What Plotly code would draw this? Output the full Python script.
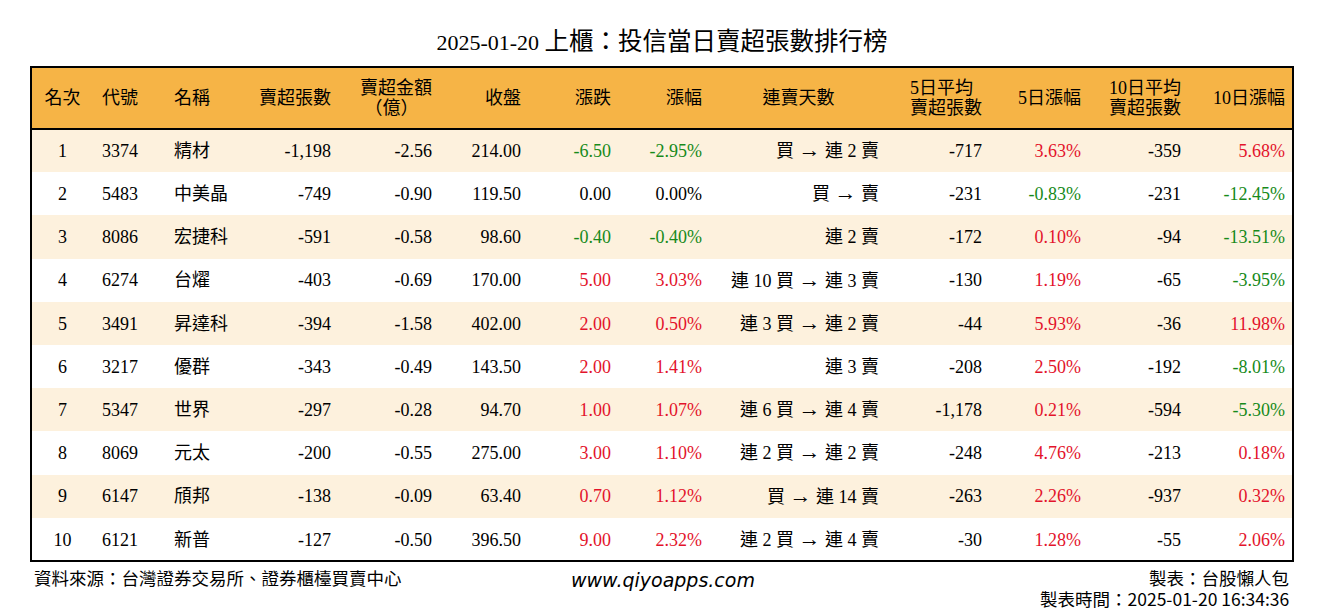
import plotly.graph_objects as go

# table data
ranks = [1, 2, 3, 4, 5, 6, 7, 8, 9, 10]
codes = ["3374", "5483", "8086", "6274", "3491", "3217", "5347", "8069", "6147", "6121"]
names = ["精材", "中美晶", "宏捷科", "台燿", "昇達科", "優群", "世界", "元太", "頎邦", "新普"]
sell_lots = [-1198, -749, -591, -403, -394, -343, -297, -200, -138, -127]
sell_amount = [-2.56, -0.90, -0.58, -0.69, -1.58, -0.49, -0.28, -0.55, -0.09, -0.50]
close = [214.00, 119.50, 98.60, 170.00, 402.00, 143.50, 94.70, 275.00, 63.40, 396.50]
change = [-6.50, 0.00, -0.40, 5.00, 2.00, 2.00, 1.00, 3.00, 0.70, 9.00]
change_pct = [-2.95, 0.00, -0.40, 3.03, 0.50, 1.41, 1.07, 1.10, 1.12, 2.32]
streak = ["買 → 連 2 賣", "買 → 賣", "連 2 賣", "連 10 買 → 連 3 賣", "連 3 買 → 連 2 賣",
          "連 3 賣", "連 6 買 → 連 4 賣", "連 2 買 → 連 2 賣", "買 → 連 14 賣", "連 2 買 → 連 4 賣"]
avg5 = [-717, -231, -172, -130, -44, -208, -1178, -248, -263, -30]
pct5 = [3.63, -0.83, 0.10, 1.19, 5.93, 2.50, 0.21, 4.76, 2.26, 1.28]
avg10 = [-359, -231, -94, -65, -36, -192, -594, -213, -937, -55]
pct10 = [5.68, -12.45, -13.51, -3.95, 11.98, -8.01, -5.30, 0.18, 0.32, 2.06]

headers = [["名次"], ["代號"], ["名稱"], ["賣超張數"], ["賣超金額", "\u00a0（億）"], ["收盤"],
           ["漲跌"], ["漲幅"], ["連賣天數"], ["5日平均", "賣超張數"], ["5日漲幅"],
           ["10日平均", "賣超張數"], ["10日漲幅"]]

RED = "#E3132B"
GREEN = "#178A1A"
HEADER_BG = "#F6B446"
STRIPE = "#FDF1DD"
FONT = "Liberation Serif, Noto Sans CJK TC, serif"
SIZE = 18


def sign_color(vals):
    return [RED if v > 0 else GREEN if v < 0 else "black" for v in vals]


def big(s):
    return f"<span style='font-size:{SIZE}px'>{s}</span>"


# plotly tables put text at the top of a cell; a small blank first line pushes it down
def cell(s):
    t = str(s).replace(" ", "\u00a0").replace("→", "<span style='font-size:22px'>→</span>")
    return "\u00a0<br>" + big(t)


def head(lines):
    if len(lines) == 1:
        return "\u00a0<br>" + big(lines[0])
    return "\u00a0<br><br>" + "<br><br><br>".join(big(t) for t in lines)


black = ["black"] * len(ranks)
raw_columns = [
    ranks,
    codes,
    names,
    [f"{v:,}" for v in sell_lots],
    [f"{v:.2f}" for v in sell_amount],
    [f"{v:.2f}" for v in close],
    [f"{v:.2f}" for v in change],
    [f"{v:.2f}%" for v in change_pct],
    streak,
    [f"{v:,}" for v in avg5],
    [f"{v:.2f}%" for v in pct5],
    [f"{v:,}" for v in avg10],
    [f"{v:.2f}%" for v in pct10],
]
columns = [[cell(v) for v in col] for col in raw_columns]
font_colors = [black, black, black, black, black, black,
               sign_color(change), sign_color(change_pct), black,
               black, sign_color(pct5), black, sign_color(pct10)]

row_fill = [STRIPE if i % 2 == 0 else "white" for i in range(len(ranks))]

fig = go.Figure()
fig.add_trace(go.Table(
    columnwidth=[63, 72, 79, 94, 101, 89, 90, 91, 177, 103, 99, 100, 104],
    header=dict(
        values=[head(h) for h in headers],
        fill_color=HEADER_BG,
        line=dict(width=0, color=HEADER_BG),
        align=["center", "left", "left", "right", "right", "right", "right", "right",
               "center", "right", "right", "right", "right"],
        font=dict(family=FONT, size=[13.2 if len(h) == 1 else 5.2 for h in headers], color="black"),
        height=62,
    ),
    cells=dict(
        values=columns,
        fill_color=[row_fill] * len(columns),
        line=dict(width=0, color="white"),
        align=["center", "left", "left", "right", "right", "right", "right", "right",
               "right", "right", "right", "right", "right"],
        font=dict(family=FONT, size=9, color=font_colors),
        height=43.2,
    ),
    domain=dict(x=[0, 1], y=[0, 1]),
))

# outer frame and header rule
fig.add_shape(type="rect", xref="paper", yref="paper", x0=0, x1=1,
              ysizemode="pixel", yanchor=1, y0=-494, y1=0,
              line=dict(color="black", width=2))
fig.add_shape(type="line", xref="paper", yref="paper", x0=0, x1=1,
              ysizemode="pixel", yanchor=1, y0=-62, y1=-62,
              line=dict(color="black", width=2))

CJK = "Noto Sans CJK TC"
fig.update_layout(
    width=1308, height=604,
    margin=dict(l=23, r=23, t=59, b=38),
    paper_bgcolor="white",
    title=dict(text="2025-01-20 <span style='font-size:24.5px'>上櫃：投信當日賣超張數排行榜</span>",
               x=0.5, xanchor="center", y=1 - 34 / 604, yref="container", yanchor="middle",
               font=dict(family=FONT, size=22, color="black")),
    annotations=[
        dict(text="資料來源：台灣證券交易所、證券櫃檯買賣中心", xref="paper", yref="paper",
             x=0, y=1, xanchor="left", yanchor="middle", xshift=1, yshift=-510, showarrow=False,
             font=dict(family=CJK, size=17.5, color="black")),
        dict(text="<i>www.qiyoapps.com</i>", xref="paper", yref="paper",
             x=0.5008, y=1, xanchor="center", yanchor="middle", yshift=-513, showarrow=False,
             font=dict(family="DejaVu Sans", size=19, color="black")),
        dict(text="製表：台股懶人包", xref="paper", yref="paper",
             x=0.996, y=1, xanchor="right", yanchor="middle", xshift=3, yshift=-510, showarrow=False,
             font=dict(family=CJK, size=17.5, color="black")),
        dict(text="製表時間：2025-01-20 16:34:36", xref="paper", yref="paper",
             x=0.996, y=1, xanchor="right", yanchor="middle", xshift=3, yshift=-531, showarrow=False,
             font=dict(family=CJK, size=17.5, color="black")),
    ],
)

fig.write_html("out.html")
